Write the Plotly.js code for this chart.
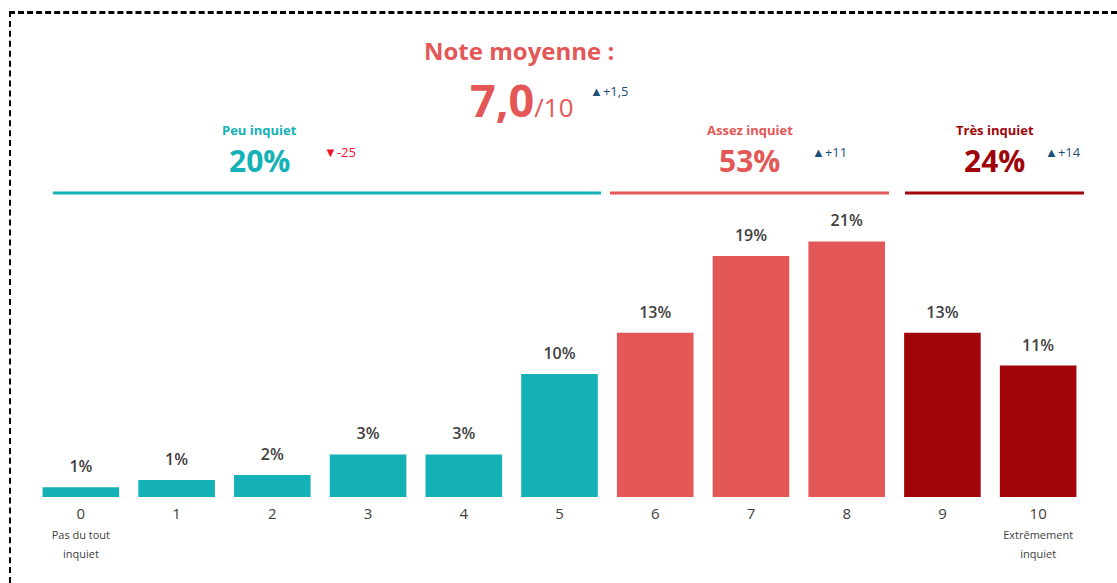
<!DOCTYPE html>
<html>
<head>
<meta charset="utf-8">
<script src="https://cdn.plot.ly/plotly-3.0.1.min.js"></script>
<style>
  body { margin: 0; background: #fff; }
  #wrap { position: relative; width: 1117px; height: 583px; }
  #frame { position: absolute; left: 9px; top: 11px; right: 0; bottom: 0;
           border-top: 3px dashed #000; border-left: 2px dashed #000; }
  #chart { position: absolute; left: 0; top: 0; width: 1117px; height: 583px; }
</style>
</head>
<body>
<div id="wrap"><div id="frame"></div><div id="chart"></div></div>
<script>
// scores 0-10
var scores = ["0", "1", "2", "3", "4", "5", "6", "7", "8", "9", "10"];
var tickLabels = ["0<br><span style='font-size:11px'>Pas du tout</span><br><span style='font-size:11px'>inquiet</span>",
  "1", "2", "3", "4", "5", "6", "7", "8", "9",
  "10<br><span style='font-size:11px'>Extrêmement</span><br><span style='font-size:11px'>inquiet</span>"];
var shares = [0.8, 1.4, 1.8, 3.5, 3.5, 10.1, 13.5, 19.8, 21.0, 13.5, 10.8];
var shareLabels = ["1%", "1%", "2%", "3%", "3%", "10%", "13%", "19%", "21%", "13%", "11%"];

// groups
var groupNames = ["Peu inquiet", "Assez inquiet", "Très inquiet"];
var groupTotals = ["20%", "53%", "24%"];
var groupChanges = ["-25", "+11", "+14"];
var groupOf = [0, 0, 0, 0, 0, 0, 1, 1, 1, 2, 2];
var groupColors = ["#14B1B7", "#E35757", "#A00409"];

var meanScore = "7,0";
var meanChange = "+1,5";

var barColors = groupOf.map(function (g) { return groupColors[g]; });

// pixel helpers for the decorations
function px2x(px) { return (px - 33) / 95.73 - 0.5; }
function py2y(py) { return (497 - py) / 297; }

var bars = {
  x: scores,
  y: shares,
  type: "bar",
  marker: {color: barColors},
  hoverinfo: "none"
};

// value labels sit a little higher than plotly's default outside text
var labels = {
  x: scores,
  y: shares,
  type: "scatter",
  mode: "markers+text",
  marker: {size: 16, opacity: 0},
  text: shareLabels,
  textposition: "top center",
  textfont: {family: "Open Sans", size: 16, color: "#404040", weight: 600},
  cliponaxis: false,
  hoverinfo: "none"
};

var grpLines = [[53, 601], [610, 889], [905, 1084]];
var grpLabelX = [260, 750, 995];
var grpChangeX = [340, 830, 1063];

var shapes = grpLines.map(function (l, i) {
  return {type: "line", xref: "x", yref: "paper",
    x0: px2x(l[0]), x1: px2x(l[1]), y0: py2y(193), y1: py2y(193),
    line: {color: groupColors[i], width: 3}};
});

function note(px, py, text, font, xanchor) {
  return {x: px2x(px), y: py2y(py), xref: "x", yref: "paper", showarrow: false,
    xanchor: xanchor || "center", yanchor: "middle", text: text, font: font};
}

var ann = [];
ann.push(note(519, 50, "<b>Note moyenne :</b>", {family: "Open Sans", size: 24, color: "#E35757"}));
ann.push(note(522, 99, "<b>" + meanScore + "</b><span style='font-size:26px'>/10</span>",
  {family: "Open Sans", size: 45, color: "#E35757"}));
ann.push(note(588, 91, "<span style='font-size:13px'>▲</span>" + meanChange,
  {family: "Open Sans", size: 13, color: "#1F4E79"}, "left"));

for (var i = 0; i < groupNames.length; i++) {
  ann.push(note(grpLabelX[i], 130, "<b>" + groupNames[i] + "</b>",
    {family: "Open Sans", size: 13, color: groupColors[i]}));
  ann.push(note(grpLabelX[i], 160, "<b>" + groupTotals[i] + "</b>",
    {family: "Open Sans", size: 30, color: groupColors[i]}));
  var up = groupChanges[i].charAt(0) === "+";
  ann.push(note(grpChangeX[i], 152, "<span style='font-size:13px'>" + (up ? "▲" : "▼") + "</span>" + groupChanges[i],
    {family: "Open Sans", size: 13, color: up ? "#1F4E79" : "#F0122E"}));
}

var layout = {
  width: 1117,
  height: 583,
  margin: {l: 33, r: 31, t: 200, b: 86},
  paper_bgcolor: "rgba(0,0,0,0)",
  plot_bgcolor: "rgba(0,0,0,0)",
  bargap: 0.2,
  showlegend: false,
  xaxis: {
    type: "category",
    tickvals: scores,
    ticktext: tickLabels,
    tickfont: {family: "Open Sans", size: 15, color: "#404040"},
    ticklabelstandoff: 6,
    showgrid: false, zeroline: false, showline: false, ticks: "",
    range: [-0.5, 10.5],
    automargin: false,
    fixedrange: true
  },
  yaxis: {range: [0, 24.4], visible: false, fixedrange: true},
  shapes: shapes,
  annotations: ann
};

Plotly.newPlot("chart", [bars, labels], layout, {displayModeBar: false, staticPlot: true});
</script>
</body>
</html>
